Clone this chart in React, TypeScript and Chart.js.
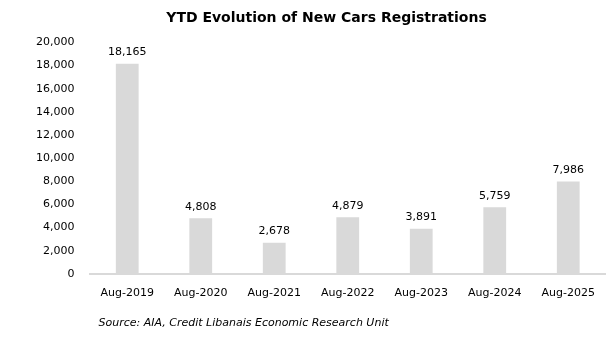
import React, { useEffect, useRef } from "react";
import { Chart, registerables } from "chart.js";

Chart.register(...registerables);

const categories = ["Aug-2019", "Aug-2020", "Aug-2021", "Aug-2022", "Aug-2023", "Aug-2024", "Aug-2025"];
const registrations = [18165, 4808, 2678, 4879, 3891, 5759, 7986];
const yMin = 0;
const yMax = 20000;
const yStep = 2000;
const titleText = "YTD Evolution of New Cars Registrations";
const sourceText = "Source: AIA, Credit Libanais Economic Research Unit";

const fmt = (v: number) => v.toLocaleString("en-US");

export default function App() {
  const ref = useRef<HTMLCanvasElement | null>(null);

  useEffect(() => {
    if (!ref.current) return;
    const labelPlugin = {
      id: "valueLabels",
      afterDatasetsDraw(chart: any) {
        const ctx = chart.ctx;
        const meta = chart.getDatasetMeta(0);
        ctx.save();
        ctx.fillStyle = "#000";
        ctx.textBaseline = "middle";
        ctx.textAlign = "center";
        ctx.font = "bold 14px 'DejaVu Sans'";
        ctx.fillText(titleText, 326.5, 18);
        ctx.font = "11px 'DejaVu Sans'";
        meta.data.forEach((bar: any, i: number) => {
          ctx.fillText(fmt(registrations[i]), bar.x, bar.y - 11.5);
        });
        ctx.font = "italic 11px 'DejaVu Sans'";
        ctx.textAlign = "left";
        ctx.fillText(sourceText, chart.chartArea.left + 8, chart.chartArea.bottom + 49);
        ctx.restore();
      },
    };
    const chart = new Chart(ref.current, {
      type: "bar",
      data: {
        labels: categories,
        datasets: [
          {
            data: registrations,
            backgroundColor: "#d9d9d9",
            borderWidth: 0,
            categoryPercentage: 1,
            barPercentage: 0.31,
          },
        ],
      },
      options: {
        responsive: false,
        animation: false,
        layout: { padding: { left: 20, right: 10, top: 42.5, bottom: 42 } },
        plugins: {
          legend: { display: false },
          tooltip: { enabled: false },
          title: { display: false },
        },
        scales: {
          x: {
            grid: { display: false, drawTicks: false },
            border: { display: true, color: "#d9d9d9", width: 2 },
            ticks: { color: "#000", font: { family: "DejaVu Sans", size: 11 }, padding: 13, maxRotation: 0 },
          },
          y: {
            min: yMin,
            max: yMax,
            grid: { display: false, drawTicks: false },
            border: { display: false },
            ticks: {
              stepSize: yStep,
              color: "#000",
              font: { family: "DejaVu Sans", size: 11 },
              padding: 16,
              callback: (v: any) => fmt(Number(v)),
            },
          },
        },
      },
      plugins: [labelPlugin],
    });
    return () => chart.destroy();
  }, []);

  return (
    <div style={{ position: "absolute", left: 0, top: 0, width: 615, height: 355, background: "#fff" }}>
      <canvas ref={ref} width={615} height={355} />
    </div>
  );
}
